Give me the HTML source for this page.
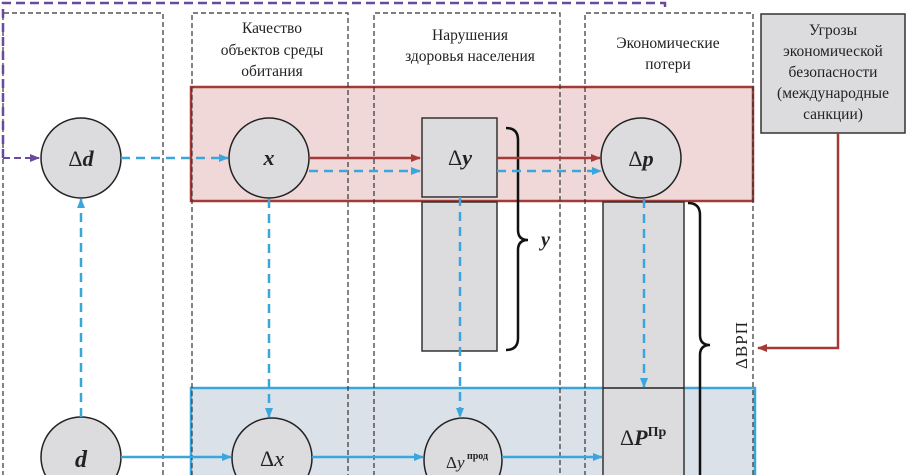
<!DOCTYPE html>
<html><head><meta charset="utf-8"><style>
html,body{margin:0;padding:0;background:#fff;width:916px;height:475px;overflow:hidden;}
svg{display:block;overflow:hidden;}
text{font-family:"Liberation Serif","DejaVu Serif",serif;fill:#222;}
</style></head><body>
<svg width="916" height="475" viewBox="0 0 916 475" xmlns="http://www.w3.org/2000/svg">
<defs>
<marker id="ab" markerWidth="10" markerHeight="10" refX="9" refY="5" orient="auto" markerUnits="userSpaceOnUse"><path d="M0,1 L10,5 L0,9 Z" fill="#3aa6dc"/></marker>
<marker id="ar" markerWidth="10" markerHeight="10" refX="9" refY="5" orient="auto" markerUnits="userSpaceOnUse"><path d="M0,1 L10,5 L0,9 Z" fill="#a33a38"/></marker>
<marker id="ap" markerWidth="10" markerHeight="10" refX="9" refY="5" orient="auto" markerUnits="userSpaceOnUse"><path d="M0,1 L10,5 L0,9 Z" fill="#6a4a9a"/></marker>
</defs>
<rect x="191" y="87" width="562" height="114" fill="#f0d8d9" stroke="#a33a38" stroke-width="2.5"/>
<path d="M191,476 L191,388 L755,388 L755,476" fill="#dae1e8" stroke="#3aa6dc" stroke-width="2.5"/>
<g fill="none" stroke="#333" stroke-width="1.2" stroke-dasharray="5,3">
<path d="M3,476 V13 H163 V476"/>
<path d="M192,476 V13 H348 V476"/>
<path d="M374,476 V13 H560 V476"/>
<path d="M585,476 V13 H753 V476"/>
</g>
<path d="M3,158 L3,3 L665,3 L665,12" fill="none" stroke="#6a4a9a" stroke-width="2.5" stroke-dasharray="9,5"/>
<line x1="3" y1="158" x2="39" y2="158" stroke="#6a4a9a" stroke-width="2" stroke-dasharray="7,4" marker-end="url(#ap)"/>
<text font-size="15.5" text-anchor="middle"><tspan x="272" y="33">Качество</tspan><tspan x="272" y="55">объектов среды</tspan><tspan x="272" y="76">обитания</tspan></text>
<text font-size="15.5" text-anchor="middle"><tspan x="470" y="40">Нарушения</tspan><tspan x="470" y="61">здоровья населения</tspan></text>
<text font-size="15.5" text-anchor="middle"><tspan x="668" y="48">Экономические</tspan><tspan x="668" y="69">потери</tspan></text>
<rect x="761" y="14" width="144" height="119" fill="#dcdcdf" stroke="#333" stroke-width="1.5"/>
<text font-size="15.5" text-anchor="middle"><tspan x="833" y="35">Угрозы</tspan><tspan x="833" y="56">экономической</tspan><tspan x="833" y="77">безопасности</tspan><tspan x="833" y="98">(международные</tspan><tspan x="833" y="119">санкции)</tspan></text>
<rect x="422" y="118" width="75" height="79" fill="#dcdcdf" stroke="#333" stroke-width="1.5"/>
<rect x="422" y="202" width="75" height="149" fill="#dcdcdf" stroke="#333" stroke-width="1.5"/>
<path d="M603,476 V202 H684 V476" fill="#dcdcdf" stroke="#333" stroke-width="1.5"/>
<line x1="603" y1="388" x2="684" y2="388" stroke="#222" stroke-width="1.5"/>
<g fill="#dcdcdf" stroke="#222" stroke-width="1.5">
<circle cx="81" cy="158" r="40"/>
<circle cx="269" cy="158" r="40"/>
<circle cx="641" cy="158" r="40"/>
<circle cx="81" cy="457" r="40"/>
<circle cx="272" cy="458" r="40"/>
<ellipse cx="463" cy="460" rx="39" ry="42"/>
</g>
<text x="81" y="166" font-size="22" text-anchor="middle">Δ<tspan font-weight="bold" font-style="italic">d</tspan></text>
<text x="269" y="165" font-size="22" text-anchor="middle" font-weight="bold" font-style="italic">x</text>
<text x="460" y="165" font-size="22" text-anchor="middle">Δ<tspan font-weight="bold" font-style="italic">y</tspan></text>
<text x="641" y="166" font-size="22" text-anchor="middle">Δ<tspan font-weight="bold" font-style="italic">p</tspan></text>
<text x="81" y="467" font-size="24" text-anchor="middle" font-weight="bold" font-style="italic">d</text>
<text x="272" y="466" font-size="22" text-anchor="middle">Δ<tspan font-style="italic">x</tspan></text>
<text x="446" y="468" font-size="17">Δ<tspan font-style="italic">y</tspan><tspan font-size="10" dy="-9" font-weight="bold"> прод</tspan></text>
<text x="620" y="445" font-size="22">Δ<tspan font-weight="bold" font-style="italic">P</tspan><tspan font-size="14" dy="-9" font-weight="bold">Пр</tspan></text>
<text x="541" y="246" font-size="20" font-weight="bold" font-style="italic">y</text>
<text transform="translate(747,345) rotate(-90)" font-size="17" text-anchor="middle" letter-spacing="1">ΔВРП</text>
<path d="M506,128 Q518,128 518,140 L518,230 Q518,240 528,240 Q518,240 518,250 L518,338 Q518,350 506,350" fill="none" stroke="#111" stroke-width="2.5"/>
<path d="M688,203 Q700,203 700,215 L700,335 Q700,345 710,345 Q700,345 700,355 L700,476" fill="none" stroke="#111" stroke-width="2.5"/>
<g stroke="#a33a38" stroke-width="2.5" fill="none">
<line x1="309" y1="158" x2="420" y2="158" marker-end="url(#ar)"/>
<line x1="497" y1="158" x2="600" y2="158" marker-end="url(#ar)"/>
<path d="M838,133 L838,348 L758,348" marker-end="url(#ar)"/>
</g>
<g stroke="#3aa6dc" stroke-width="2.5" fill="none" stroke-dasharray="9,6">
<line x1="121" y1="158" x2="228" y2="158" marker-end="url(#ab)"/>
<line x1="309" y1="171" x2="420" y2="171" marker-end="url(#ab)"/>
<line x1="497" y1="171" x2="601" y2="171" marker-end="url(#ab)"/>
<line x1="81" y1="417" x2="81" y2="199" marker-end="url(#ab)"/>
<line x1="269" y1="199" x2="269" y2="417" marker-end="url(#ab)"/>
<line x1="460" y1="197" x2="460" y2="417" marker-end="url(#ab)"/>
<line x1="644" y1="199" x2="644" y2="387" marker-end="url(#ab)"/>
</g>
<g stroke="#3aa6dc" stroke-width="2.5" fill="none">
<line x1="121" y1="457" x2="231" y2="457" marker-end="url(#ab)"/>
<line x1="312" y1="457" x2="423" y2="457" marker-end="url(#ab)"/>
<line x1="502" y1="457" x2="602" y2="457" marker-end="url(#ab)"/>
</g>
</svg>
</body></html>
